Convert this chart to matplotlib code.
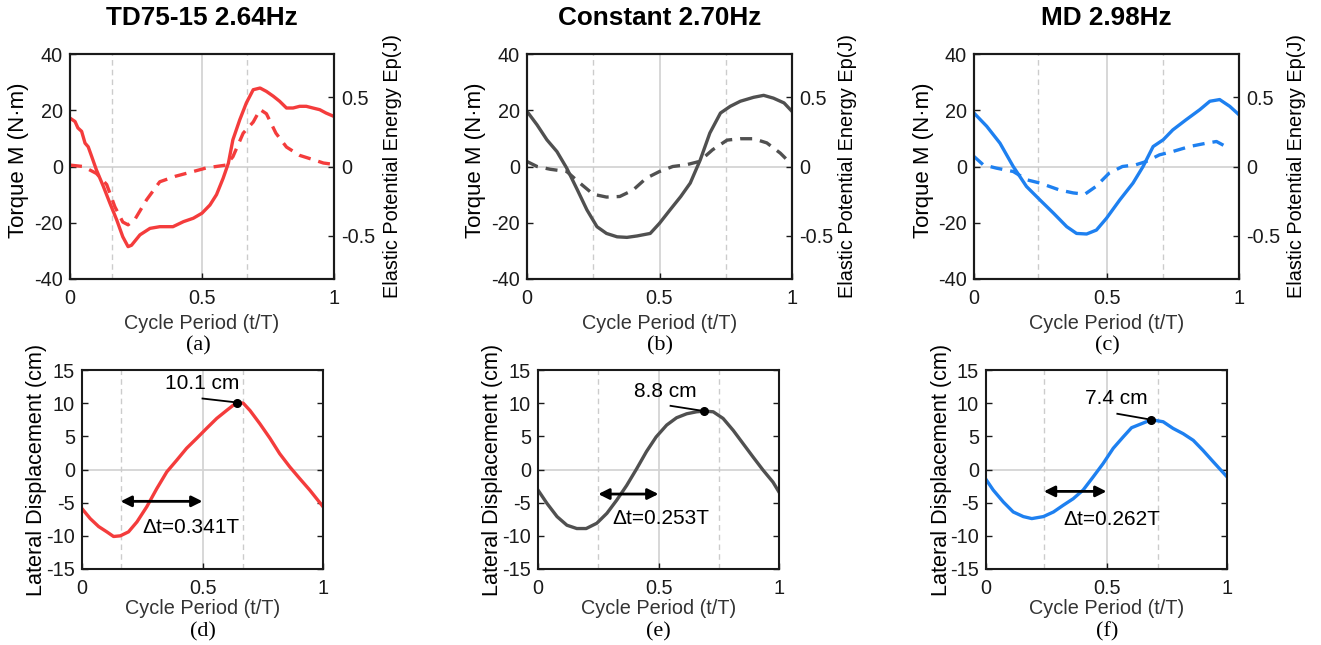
import matplotlib
matplotlib.use('Agg')
import matplotlib.pyplot as plt
import numpy as np

plt.rcParams['font.family'] = ['Liberation Sans', 'DejaVu Sans']
plt.rcParams['axes.unicode_minus'] = False

W, H = 1321, 645

# ---- data ----
titles = ['TD75-15 2.64Hz', 'Constant 2.70Hz', 'MD 2.98Hz']
colors = ['#f43c3c', '#505050', '#1e80f0']
sub_top = ['(a)', '(b)', '(c)']
sub_bot = ['(d)', '(e)', '(f)']
vlines = [(0.16, 0.67), (0.25, 0.75), (0.24, 0.713)]

# torque M (N.m), solid
tq_x_a = [0, 0.019, 0.03, 0.044, 0.057, 0.069, 0.082, 0.1, 0.126, 0.151, 0.177, 0.2, 0.22, 0.233,
          0.265, 0.303, 0.34, 0.39, 0.43, 0.467, 0.5, 0.53, 0.555, 0.58, 0.6, 0.617, 0.643, 0.668,
          0.694, 0.72, 0.744, 0.77, 0.794, 0.82, 0.845, 0.87, 0.895, 0.92, 0.946, 0.97, 1.0]
tq_y_a = [17.2, 16, 13.7, 12.5, 8.3, 7, 3.6, -1.2, -7, -13, -19, -25, -28.5, -28,
          -24.3, -22, -21.4, -21.4, -19.6, -18.4, -16.6, -13.7, -10, -4.2, 1.2, 9.5, 16.6, 22.6,
          27.3, 27.9, 26.7, 25, 23.2, 20.8, 20.8, 21.4, 21.4, 20.8, 20.2, 19, 17.8]
tq_x_b = [0, 0.038, 0.075, 0.113, 0.15, 0.19, 0.226, 0.264, 0.3, 0.34, 0.377, 0.415, 0.465, 0.5,
          0.54, 0.58, 0.616, 0.654, 0.69, 0.73, 0.767, 0.805, 0.855, 0.893, 0.93, 0.97, 1.0]
tq_y_b = [19.6, 14.8, 9.5, 5.3, -0.6, -8.3, -15.4, -21.4, -23.8, -25, -25.2, -24.7, -23.8, -20.2,
          -15.4, -10.7, -5.9, 2.4, 11.9, 19, 21.4, 23.2, 24.6, 25.3, 24.3, 22.6, 19.6]
tq_x_c = [0, 0.048, 0.098, 0.148, 0.198, 0.249, 0.3, 0.35, 0.387, 0.425, 0.462, 0.5, 0.55, 0.6,
          0.638, 0.676, 0.714, 0.75, 0.8, 0.852, 0.89, 0.927, 0.965, 1.0]
tq_y_c = [19, 14.3, 8.3, 0, -7.1, -11.9, -16.6, -21.4, -23.8, -24, -22.6, -18.4, -11.9, -5.9,
          0, 7.1, 9.5, 13, 16.6, 20.2, 23.2, 23.8, 21.4, 18.4]

# elastic potential energy Ep (J), dashed
ep_x_a = [0, 0.05, 0.1, 0.139, 0.17, 0.2, 0.22, 0.246, 0.29, 0.34, 0.4, 0.467, 0.517, 0.59,
          0.617, 0.656, 0.694, 0.72, 0.744, 0.78, 0.82, 0.87, 0.92, 0.96, 1.0]
ep_y_a = [0.01, 0, -0.05, -0.13, -0.29, -0.4, -0.42, -0.38, -0.24, -0.11, -0.07, -0.036, -0.01, 0.01,
          0.07, 0.24, 0.32, 0.41, 0.38, 0.24, 0.14, 0.08, 0.05, 0.025, 0.015]
ep_x_b = [0, 0.038, 0.088, 0.15, 0.2, 0.25, 0.3, 0.35, 0.4, 0.45, 0.5, 0.55, 0.6, 0.65,
          0.7, 0.755, 0.805, 0.855, 0.905, 0.956, 0.994]
ep_y_b = [0.036, 0, -0.02, -0.036, -0.12, -0.2, -0.22, -0.216, -0.17, -0.084, -0.036, 0, 0.012, 0.036,
          0.12, 0.19, 0.2, 0.2, 0.17, 0.096, 0.024]
ep_x_c = [0, 0.035, 0.085, 0.148, 0.2, 0.25, 0.324, 0.374, 0.418, 0.46, 0.51, 0.56, 0.61, 0.65,
          0.7, 0.75, 0.814, 0.877, 0.915, 0.95]
ep_y_c = [0.072, 0.012, -0.012, -0.036, -0.096, -0.12, -0.17, -0.19, -0.2, -0.144, -0.048, 0, 0.012, 0.036,
          0.084, 0.108, 0.144, 0.168, 0.18, 0.144]

# lateral displacement (cm)
ld_x_d = [0, 0.034, 0.069, 0.103, 0.131, 0.159, 0.193, 0.228, 0.269, 0.31, 0.352, 0.393, 0.434, 0.476,
          0.517, 0.559, 0.6, 0.628, 0.644, 0.669, 0.697, 0.738, 0.78, 0.82, 0.862, 0.903, 0.945, 1.0]
ld_y_d = [-5.9, -7.4, -8.6, -9.4, -10.1, -10, -9.4, -7.9, -5.6, -2.9, -0.35, 1.4, 3.2, 4.7,
          6.2, 7.7, 8.9, 9.7, 10.1, 10, 8.9, 6.9, 4.7, 2.4, 0.4, -1.35, -3.1, -5.6]
ld_x_e = [0, 0.037, 0.079, 0.12, 0.161, 0.2, 0.244, 0.286, 0.327, 0.368, 0.41, 0.45, 0.49, 0.534,
          0.575, 0.617, 0.658, 0.69, 0.727, 0.768, 0.81, 0.851, 0.892, 0.934, 0.975, 1.0]
ld_y_e = [-3.1, -5.1, -7.1, -8.4, -8.9, -8.9, -8.1, -6.6, -4.6, -2.4, 0.15, 2.7, 4.9, 6.7,
          7.8, 8.4, 8.7, 8.8, 8.7, 7.7, 5.9, 3.9, 1.9, -0.1, -1.9, -3.4]
ld_x_f = [0, 0.03, 0.072, 0.113, 0.155, 0.19, 0.238, 0.28, 0.32, 0.362, 0.403, 0.445, 0.486, 0.528,
          0.569, 0.604, 0.645, 0.686, 0.735, 0.776, 0.818, 0.86, 0.9, 0.942, 1.0]
ld_y_f = [-1.5, -3.1, -4.9, -6.4, -7.1, -7.4, -7.1, -6.4, -5.4, -4.4, -3.1, -1.1, 0.9, 3.2,
          4.9, 6.3, 6.9, 7.5, 7.2, 6.2, 5.4, 4.4, 2.9, 1.2, -1.1]

peak_x = [0.644, 0.69, 0.686]
peak_y = [10.1, 8.8, 7.5]
peak_txt = ['10.1 cm', '8.8 cm', '7.4 cm']
peak_txt_xy = [(0.5, 13.0), (0.53, 11.8), (0.54, 10.7)]
peak_line_start = [(0.5, 10.7), (0.55, 9.6), (0.545, 8.4)]
dt_txt = ['\u0394t=0.341T', '\u0394t=0.253T', '\u0394t=0.262T']
dt_arrow = [(0.16, 0.5, -4.8), (0.25, 0.5, -3.7), (0.24, 0.5, -3.3)]
dt_txt_xy = [(0.45, -8.7), (0.51, -7.4), (0.52, -7.5)]

tq_x = [tq_x_a, tq_x_b, tq_x_c]
tq_y = [tq_y_a, tq_y_b, tq_y_c]
ep_x = [ep_x_a, ep_x_b, ep_x_c]
ep_y = [ep_y_a, ep_y_b, ep_y_c]
ld_x = [ld_x_d, ld_x_e, ld_x_f]
ld_y = [ld_y_d, ld_y_e, ld_y_f]

# ---- layout (pixels) ----
top_box = [(70, 334), (527, 792), (974, 1239)]
bot_box = [(82, 323), (538, 779), (986, 1227)]
title_x = [202, 660, 1106]
sub_top_x = [198, 660, 1107]
sub_bot_x = [203, 658, 1107]
ylab_top = [(-0.155, 1.186), (-0.155, 1.174), (-0.15, 1.181)]
ylab_bot = [-0.145, -0.145, -0.141]

TK = 14.3   # tick labels / x labels
fig = plt.figure(figsize=(W / 100, H / 100), dpi=100)


def px_axes(x0, x1, y0, y1):
    return fig.add_axes([x0 / W, 1 - y1 / H, (x1 - x0) / W, (y1 - y0) / H])


def style(ax):
    for s in ax.spines.values():
        s.set_linewidth(1.5)
        s.set_color('#1a1a1a')
    ax.tick_params(direction='in', length=4, width=1, labelsize=TK, colors='#1a1a1a', pad=5)
    ax.tick_params(axis='x', pad=7)


def guides(ax, i):
    ax.axvline(0.5, color='#d4d4d4', lw=1.3, zorder=0)
    ax.axhline(0, color='#d4d4d4', lw=1.3, zorder=0)
    for v in vlines[i]:
        ax.axvline(v, color='#cccccc', lw=1.0, ls=(0, (4, 3)), zorder=0)


for i in range(3):
    # top: torque and elastic energy
    x0, x1 = top_box[i]
    ax = px_axes(x0, x1, 54, 279)
    style(ax)
    guides(ax, i)
    ax.plot(tq_x[i], tq_y[i], color=colors[i], lw=2.4)
    ax.set_xlim(0, 1)
    ax.set_ylim(-40, 40)
    ax.set_xticks([0, 0.5, 1])
    ax.set_xticklabels(['0', '0.5', '1'])
    ax.set_yticks([-40, -20, 0, 20, 40])
    ax.set_xlabel('Cycle Period (t/T)', fontsize=TK, color='#333333')
    ax.xaxis.set_label_coords(0.5, -0.155)
    ax.set_ylabel('Torque M (N\u00b7m)', fontsize=16)
    ax.yaxis.set_label_coords(ylab_top[i][0], 0.53)
    fig.text(title_x[i] / W, 1 - 18 / H, titles[i], fontsize=18.8, fontweight='bold',
             ha='center', va='center')

    ax2 = ax.twinx()
    style(ax2)
    ax2.plot(ep_x[i], ep_y[i], color=colors[i], lw=2.4, ls=(0, (3.6, 2.4)))
    ax2.set_ylim(-0.81, 0.81)
    ax2.set_yticks([-0.5, 0, 0.5])
    ax2.set_yticklabels(['-0.5', '0', '0.5'])
    ax2.set_ylabel('Elastic Potential Energy Ep(J)', fontsize=TK)
    ax2.yaxis.set_label_coords(ylab_top[i][1], 0.5)
    fig.text(sub_top_x[i] / W, 1 - 346 / H, sub_top[i], family='Liberation Serif',
             fontsize=16, ha='center', va='center')

    # bottom: lateral displacement
    x0, x1 = bot_box[i]
    bx = px_axes(x0, x1, 370, 569)
    style(bx)
    guides(bx, i)
    bx.plot(ld_x[i], ld_y[i], color=colors[i], lw=2.4)
    bx.set_xlim(0, 1)
    bx.set_ylim(-15, 15)
    bx.set_xticks([0, 0.5, 1])
    bx.set_xticklabels(['0', '0.5', '1'])
    bx.set_yticks(np.arange(-15, 16, 5))
    bx.tick_params(right=True)
    bx.set_xlabel('Cycle Period (t/T)', fontsize=TK, color='#333333')
    bx.xaxis.set_label_coords(0.5, -0.15)
    bx.set_ylabel('Lateral Displacement (cm)', fontsize=15.6)
    bx.yaxis.set_label_coords(ylab_bot[i], 0.5)

    # peak annotation
    sx, sy = peak_line_start[i]
    bx.plot([sx, peak_x[i]], [sy, peak_y[i]], color='black', lw=1.3)
    bx.plot(peak_x[i], peak_y[i], 'o', color='black', ms=5.5)
    tx, ty = peak_txt_xy[i]
    bx.text(tx, ty, peak_txt[i], fontsize=15, ha='center', va='center')

    # delta t arrow
    a0, a1, ay = dt_arrow[i]
    bx.annotate('', xy=(a1, ay), xytext=(a0, ay),
                arrowprops=dict(arrowstyle='<|-|>', color='black', lw=2,
                                mutation_scale=16, shrinkA=0, shrinkB=0))
    tx, ty = dt_txt_xy[i]
    bx.text(tx, ty, dt_txt[i], fontsize=15, ha='center', va='center')
    fig.text(sub_bot_x[i] / W, 1 - 632 / H, sub_bot[i], family='Liberation Serif',
             fontsize=16, ha='center', va='center')

fig.savefig('out.png', dpi=100)
